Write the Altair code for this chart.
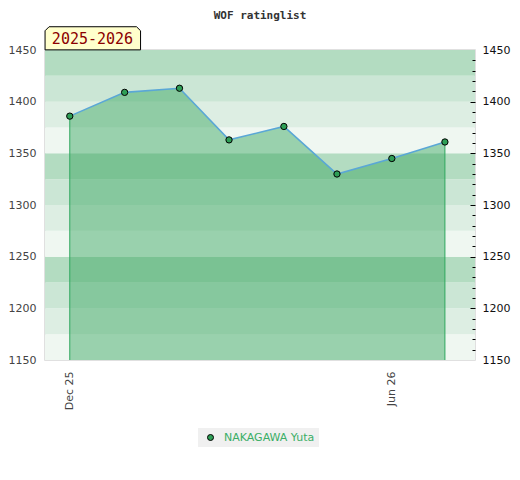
import altair as alt
import pandas as pd

# ---- data ----
DATES = ["2025-12-01", "2026-01-01", "2026-02-01", "2026-03-01",
         "2026-04-01", "2026-05-01", "2026-06-01", "2026-07-01"]
RATINGS = [1386, 1409, 1413, 1363, 1376, 1330, 1345, 1361]
PLAYER = "NAKAGAWA Yuta"
SEASON = "2025-2026"
TITLE = "WOF ratinglist"

Y_MIN, Y_MAX = 1150, 1450
Y_LABELS = [1150, 1200, 1250, 1300, 1350, 1400, 1450]
Y_MINOR = list(range(1160, 1450, 10))
BAND_LO = [1150, 1175, 1200, 1225, 1250, 1275, 1300, 1325, 1350, 1375, 1400, 1425]
BAND_HI = [1175, 1200, 1225, 1250, 1275, 1300, 1325, 1350, 1375, 1400, 1425, 1450]
BAND_SHADE = [3, 2, 1, 0, 3, 2, 1, 0, 3, 2, 1, 0]
BAND_COLORS = ["#b3dcc1", "#cbe6d5", "#ddeee3", "#eff7f1"]

df = pd.DataFrame({"date": DATES, "rating": RATINGS, "player": [PLAYER] * len(DATES)})
edges = df.iloc[[0, len(df) - 1]]
bands = pd.DataFrame({"lo": BAND_LO, "hi": BAND_HI, "shade": BAND_SHADE})
label_df = pd.DataFrame({"txt": [SEASON]})

W, H = 430, 310

XSCALE = alt.Scale(type="utc",
                   domain=[alt.DateTime(year=2025, month=11, date=17, utc=True),
                           alt.DateTime(year=2026, month=7, date=18, utc=True)])
XAXIS = alt.Axis(values=[alt.DateTime(year=2025, month=12, date=1, utc=True),
                         alt.DateTime(year=2026, month=6, date=1, utc=True)],
                 format="%b %y", labelAngle=-90, ticks=False, tickSize=0,
                 domain=False, grid=False, labelPadding=11, labelColor="#444",
                 labelFontSize=11, title=None)
YSCALE = alt.Scale(domain=[Y_MIN, Y_MAX], zero=False, nice=False)
LEFT_AXIS = alt.Axis(orient="left", values=Y_LABELS, format="d", ticks=False, tickSize=0,
                     domain=False, grid=False, labelColor="#444", labelFontSize=11,
                     labelPadding=9, title=None, zindex=1)

x_enc = alt.X("date:T", scale=XSCALE, axis=XAXIS)

band_layer = alt.Chart(bands).mark_rect().encode(
    y=alt.Y("lo:Q", scale=YSCALE, axis=LEFT_AXIS),
    y2="hi:Q",
    fill=alt.Fill("shade:O", scale=alt.Scale(domain=[0, 1, 2, 3], range=BAND_COLORS),
                  legend=None),
)

area_layer = alt.Chart(df).mark_area(fill="#3aa65f", fillOpacity=0.47).encode(
    x=x_enc,
    y=alt.Y("rating:Q", scale=YSCALE, axis=LEFT_AXIS),
    y2=alt.datum(Y_MIN),
)

rule_layer = alt.Chart(edges).mark_rule(color="#2fa85e", strokeWidth=1).encode(
    x=x_enc,
    y=alt.Y("rating:Q", scale=YSCALE, axis=LEFT_AXIS),
    y2=alt.datum(Y_MIN),
)

line_layer = alt.Chart(df).mark_line(color="#5aa7d6", strokeWidth=1.6).encode(
    x=x_enc,
    y=alt.Y("rating:Q", scale=YSCALE, axis=LEFT_AXIS),
)

point_layer = alt.Chart(df).mark_point(filled=True, size=40, stroke="black",
                                       strokeWidth=1, opacity=1).encode(
    x=x_enc,
    y=alt.Y("rating:Q", scale=YSCALE, axis=LEFT_AXIS),
    color=alt.Color("player:N", scale=alt.Scale(range=["#2e9e56"]),
                    legend=alt.Legend(title=None, orient="none", legendX=153, legendY=378,
                                      fillColor="#f0f0f0", padding=4, symbolType="circle",
                                      symbolSize=36, symbolStrokeColor="black",
                                      symbolStrokeWidth=1, symbolOffset=3, labelOffset=8,
                                      labelColor="#3aae66", labelFontSize=11)),
)

box_path = ("M -1 0.2421 L -1 -0.1579 L -0.9158 -0.2421 L 0.9158 -0.2421 "
            "L 1 -0.1579 L 1 0.2421 Z")
box_layer = alt.Chart(label_df).mark_point(shape=box_path, filled=True, fill="#ffffcc",
                                           stroke="black", strokeWidth=1, size=9120,
                                           opacity=1).encode(
    x=alt.value(47.8), y=alt.value(-11.7))
text_layer = alt.Chart(label_df).mark_text(font="DejaVu Sans Mono", fontSize=15,
                                           color="#8b0000", align="center",
                                           baseline="middle").encode(
    x=alt.value(47.5), y=alt.value(-11), text="txt:N")

main = alt.layer(band_layer, area_layer, rule_layer, line_layer, point_layer,
                 box_layer, text_layer)

tick_layer = alt.Chart(df).mark_point(opacity=0).encode(
    y=alt.Y("rating:Q", scale=YSCALE,
            axis=alt.Axis(orient="left", offset=-W, values=Y_MINOR, labels=False,
                          domain=False, grid=False, tickColor="black", tickWidth=1,
                          tickSize={"condition": {"test": "datum.value % 50 === 0", "value": 5},
                                    "value": 3},
                          title=None, zindex=1)),
)

right_label_layer = alt.Chart(df).mark_point(opacity=0).encode(
    y=alt.Y("rating:Q", scale=YSCALE,
            axis=alt.Axis(orient="right", values=Y_LABELS, format="d", ticks=False,
                          tickSize=0, domain=False, grid=False, labelColor="#111",
                          labelFontSize=11, labelPadding=7, title=None, zindex=1)),
)

chart = alt.layer(main, tick_layer, right_label_layer).resolve_scale(
    y="independent"
).properties(
    width=W, height=H,
    title=alt.TitleParams(TITLE, font="DejaVu Sans Mono", fontSize=11, fontWeight="bold",
                          color="#333", anchor="middle", offset=4),
    autosize=alt.AutoSizeParams(type="none"),
    padding={"left": 37, "top": 42, "right": 37, "bottom": 110},
).configure(font="DejaVu Sans").configure_view(stroke="#d6d6d6", strokeWidth=1.5)

chart.save("out.html", embed_options={"renderer": "svg", "actions": False})
